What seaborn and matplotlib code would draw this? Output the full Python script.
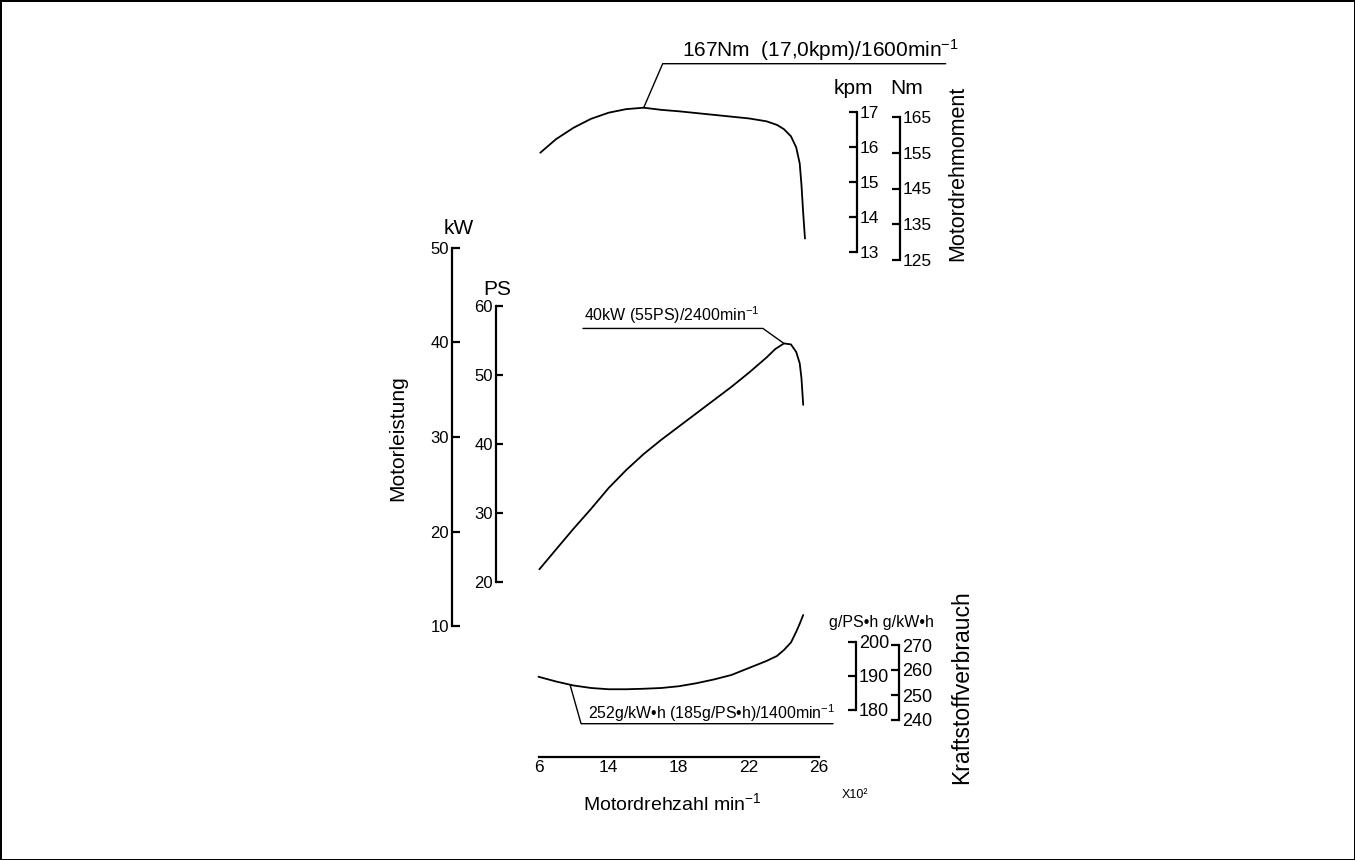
import numpy as np
import pandas as pd
import matplotlib
matplotlib.use("Agg")
import matplotlib.pyplot as plt
from matplotlib.lines import Line2D
import seaborn as sns

# ---------------- data (speed in 100 min^-1) ----------------
torque_rpm = [10.1, 11.0, 12.0, 13.0, 14.0, 15.0, 16.0, 17.0, 18.0, 19.0, 20.0,
              21.0, 22.0, 23.0, 23.6, 24.0, 24.4, 24.7, 24.9, 25.0, 25.1, 25.2]
torque_nm = [155.0, 158.8, 162.0, 164.5, 166.2, 167.2, 167.6, 167.0, 166.6, 166.1, 165.6,
             165.1, 164.6, 163.8, 162.8, 161.6, 159.6, 156.5, 152.0, 146.0, 138.0, 131.0]

power_rpm = [10.05, 11.0, 12.0, 13.0, 14.0, 15.0, 16.0, 17.0, 18.0, 19.0, 20.0,
             21.0, 22.0, 23.0, 23.5, 24.0, 24.4, 24.7, 24.9, 25.0, 25.1]
power_kw = [16.0, 18.1, 20.3, 22.4, 24.6, 26.5, 28.2, 29.7, 31.1, 32.5, 33.9,
            35.3, 36.8, 38.4, 39.3, 39.9, 39.8, 39.0, 37.8, 36.2, 33.4]

fuel_rpm = [10.0, 11.0, 12.0, 13.0, 14.0, 15.0, 16.0, 17.0, 18.0, 19.0, 20.0,
            21.0, 22.0, 23.0, 23.6, 24.0, 24.4, 24.7, 24.9, 25.1]
fuel_gkwh = [257.3, 255.4, 253.8, 252.8, 252.3, 252.3, 252.5, 252.8, 253.5, 254.7, 256.2,
             258.0, 260.8, 263.6, 265.6, 268.0, 271.0, 275.3, 278.5, 282.0]

x_ticks = [10, 14, 18, 22, 26]
x_ticklabels = ["6", "14", "18", "22", "26"]
kw_ticks = [10, 20, 30, 40, 50]
ps_ticks = [20, 30, 40, 50, 60]
kpm_ticks = [13, 14, 15, 16, 17]
nm_ticks = [125, 135, 145, 155, 165]
gps_ticks = [180, 190, 200]
gkw_ticks = [240, 250, 260, 270]

torque_note = "167Nm  (17,0kpm)/1600min$^{-1}$"
power_note = "40kW (55PS)/2400min$^{-1}$"
fuel_note = "252g/kW\u2022h (185g/PS\u2022h)/1400min$^{-1}$"

# ---------------- style ----------------
sns.set_style("white")
plt.rcParams["font.family"] = ["Liberation Sans", "DejaVu Sans"]
plt.rcParams["mathtext.fontset"] = "custom"
plt.rcParams["mathtext.rm"] = "Liberation Sans"
plt.rcParams["mathtext.it"] = "Liberation Sans"
plt.rcParams["mathtext.default"] = "rm"
for k in ["text.color", "axes.labelcolor", "xtick.color", "ytick.color", "axes.edgecolor"]:
    plt.rcParams[k] = "black"

W, H = 1355, 860
fig = plt.figure(figsize=(W / 100, H / 100), dpi=100, facecolor="white",
                 edgecolor="black", linewidth=2)


def px_axes(x0, y0, x1, y1):
    a = fig.add_axes([x0 / W, 1 - y1 / H, (x1 - x0) / W, (y1 - y0) / H])
    a.patch.set_alpha(0)
    for s in a.spines.values():
        s.set_visible(False)
    return a


def ftext(x, y, s, **kw):
    fig.text(x / W, 1 - y / H, s, **kw)


XL, XR = 538.5, 819.0
LW = 1.3
SP = 1.6

# ---------------- data axes ----------------
ax_t = px_axes(XL, 117, XR, 260)
ax_p = px_axes(XL, 248, XR, 626)
ax_f = px_axes(XL, 645, XR, 720)

df_t = pd.DataFrame({"rpm": torque_rpm, "val": torque_nm})
df_p = pd.DataFrame({"rpm": power_rpm, "val": power_kw})
df_f = pd.DataFrame({"rpm": fuel_rpm, "val": fuel_gkwh})

for a, df, lim in [(ax_t, df_t, (125, 165)), (ax_p, df_p, (10, 50)), (ax_f, df_f, (240, 270))]:
    sns.lineplot(data=df, x="rpm", y="val", ax=a, color="black", lw=LW, clip_on=False,
                 solid_joinstyle="round")
    a.set_xlim(10, 26)
    a.set_ylim(*lim)
    a.set_xticks([])
    a.set_yticks([])
    a.set_xlabel("")
    a.set_ylabel("")

# ---------------- x axis ----------------
ax_x = px_axes(XL, 740, XR, 757)
ax_x.spines["bottom"].set_visible(True)
ax_x.spines["bottom"].set_linewidth(SP)
ax_x.set_xlim(10, 26)
ax_x.set_yticks([])
ax_x.set_xticks(x_ticks)
ax_x.set_xticklabels(x_ticklabels)
ax_x.tick_params(axis="x", direction="in", length=5, width=SP, labelsize=12.5, pad=2)

# ---------------- scale axes ----------------
def scale(x, y0, y1, lim, ticks, side, size, length=5):
    if side == "left":
        a = px_axes(x, y0, x + 5, y1)
    else:
        a = px_axes(x - 5, y0, x, y1)
    a.spines[side].set_visible(True)
    a.spines[side].set_linewidth(SP)
    a.set_ylim(*lim)
    a.set_xticks([])
    a.set_yticks(ticks)
    a.set_yticklabels([str(t) for t in ticks])
    a.yaxis.set_ticks_position(side)
    a.tick_params(axis="y", direction="in", length=length, width=SP, labelsize=size, pad=2)
    return a

scale(452, 248, 626, (10, 50), kw_ticks, "left", 12, 6)
scale(495.5, 306, 582, (20, 60), ps_ticks, "left", 12, 5)
scale(857, 112, 252, (13, 17), kpm_ticks, "right", 12.5, 6)
scale(900, 117, 260, (125, 165), nm_ticks, "right", 12.5, 6)
scale(856, 642, 710, (180, 200), gps_ticks, "right", 13, 6)
scale(899, 645, 720, (240, 270), gkw_ticks, "right", 13, 6)

# ---------------- annotations with leaders ----------------
fig.canvas.draw()


def leader(a, xv, yv, dx, dy, length, text, fs, tx, ty):
    p0 = a.transData.transform((xv, yv))
    p1 = p0 + np.array([dx, dy])
    p2 = p1 + np.array([length, 0])
    pts = np.vstack([p0, p1, p2])
    pts = fig.transFigure.inverted().transform(pts)
    fig.add_artist(Line2D(pts[:, 0], pts[:, 1], color="black", lw=1.0,
                          transform=fig.transFigure))
    ftext(tx, ty, text, fontsize=fs, ha="left", va="baseline")

i_t = int(np.argmax(torque_nm))
leader(ax_t, torque_rpm[i_t], torque_nm[i_t], 19, 44, 283, torque_note, 15, 682, 57)
i_p = int(np.argmax(power_kw))
leader(ax_p, power_rpm[i_p], power_kw[i_p], -21, 15, -180, power_note, 11.5, 584, 321)
leader(ax_f, 11.8, float(np.interp(11.8, fuel_rpm, fuel_gkwh)), 11, -39, 252,
       fuel_note, 11.4, 588, 719)

# ---------------- labels ----------------
ftext(459, 228, "kW", fontsize=15, ha="center", va="center")
ftext(497, 290, "PS", fontsize=15, ha="center", va="center")
ftext(398, 438, "Motorleistung", fontsize=15, rotation=90, ha="center", va="center")
ftext(853, 88, "kpm", fontsize=15, ha="center", va="center")
ftext(907, 88, "Nm", fontsize=15, ha="center", va="center")
ftext(958, 173, "Motordrehmoment", fontsize=15.5, rotation=90, ha="center", va="center")
ftext(881, 622, "g/PS\u2022h g/kW\u2022h", fontsize=11.5, ha="center", va="center")
ftext(962, 687, "Kraftstoffverbrauch", fontsize=16.5, rotation=90, ha="center", va="center")
ftext(672, 803, "Motordrehzahl min$^{-1}$", fontsize=14, ha="center", va="center")
ftext(855, 795, "X10\u00b2", fontsize=9, ha="center", va="center")

fig.savefig("out.png", dpi=100, facecolor="white", edgecolor="black")
